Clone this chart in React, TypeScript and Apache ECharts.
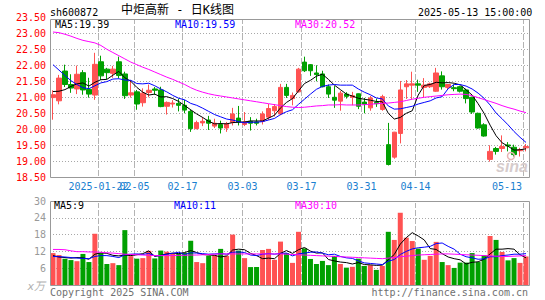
import React, { useEffect, useRef } from 'react';
import * as echarts from 'echarts';

const dates = [
  '2025-01-08','2025-01-09','2025-01-10','2025-01-13','2025-01-14','2025-01-15','2025-01-16','2025-01-17','2025-01-20','2025-01-21',
  '2025-01-22','2025-01-23','2025-01-24','2025-01-27','2025-02-05','2025-02-06','2025-02-07','2025-02-10','2025-02-11','2025-02-12',
  '2025-02-13','2025-02-14','2025-02-17','2025-02-18','2025-02-19','2025-02-20','2025-02-21','2025-02-24','2025-02-25','2025-02-26',
  '2025-02-27','2025-02-28','2025-03-03','2025-03-04','2025-03-05','2025-03-06','2025-03-07','2025-03-10','2025-03-11','2025-03-12',
  '2025-03-13','2025-03-14','2025-03-17','2025-03-18','2025-03-19','2025-03-20','2025-03-21','2025-03-24','2025-03-25','2025-03-26',
  '2025-03-27','2025-03-28','2025-03-31','2025-04-01','2025-04-02','2025-04-03','2025-04-07','2025-04-08','2025-04-09','2025-04-10',
  '2025-04-11','2025-04-14','2025-04-15','2025-04-16','2025-04-17','2025-04-18','2025-04-21','2025-04-22','2025-04-23','2025-04-24',
  '2025-04-25','2025-04-28','2025-04-29','2025-04-30','2025-05-06','2025-05-07','2025-05-08','2025-05-09','2025-05-12','2025-05-13'
];

const tickIndex = [8, 14, 22, 32, 42, 52, 61, 79];
const tickLabels = ['2025-01-22', '02-05', '02-17', '03-03', '03-17', '03-31', '04-14', '05-13'];

const opens = [
  20.99, 20.89, 21.82, 21.40, 21.26, 21.77, 21.25, 21.07, 22.11, 21.88,
  21.75, 22.11, 21.73, 21.07, 21.17, 20.83, 21.15, 21.26, 21.23, 20.72,
  20.79, 20.81, 20.75, 20.56, 20.02, 20.20, 20.29, 20.10, 20.15, 20.04,
  20.21, 20.35, 20.15, 20.25, 20.23, 20.25, 20.38, 20.58, 20.48, 21.31,
  20.96, 21.17, 22.10, 22.02, 21.76, 21.73, 21.33, 21.00, 20.88, 21.10,
  21.00, 21.11, 20.85, 20.67, 20.84, 20.62, 19.52, 19.13, 19.87, 21.33,
  21.38, 21.42, 21.31, 21.33, 21.19, 21.67, 21.31, 21.30, 21.33, 21.23,
  21.00, 20.50, 20.14, 19.06, 19.40, 19.40, 19.51, 19.44, 19.33, 19.42
];
const closes = [
  21.08, 21.60, 21.40, 21.29, 21.72, 21.23, 21.10, 22.03, 21.67, 21.77,
  21.88, 21.68, 21.05, 21.14, 20.79, 21.13, 21.22, 21.22, 20.71, 20.84,
  20.82, 20.75, 20.60, 20.02, 20.21, 20.25, 20.19, 20.19, 20.04, 20.17,
  20.48, 20.23, 20.23, 20.19, 20.19, 20.48, 20.65, 20.71, 21.31, 21.06,
  21.06, 21.88, 21.83, 21.83, 21.71, 21.33, 21.10, 20.91, 21.13, 21.03,
  21.05, 20.72, 20.79, 20.98, 20.80, 21.02, 18.90, 19.91, 21.23, 21.42,
  21.42, 21.38, 21.38, 21.42, 21.76, 21.33, 21.40, 21.27, 21.19, 20.96,
  20.54, 20.04, 19.79, 19.31, 19.31, 19.46, 19.48, 19.21, 19.36, 19.46
];
const lows = [
  20.30, 20.78, 21.32, 21.14, 21.10, 21.08, 20.99, 20.92, 21.54, 21.57,
  21.61, 21.59, 20.95, 20.99, 20.61, 20.71, 21.00, 21.08, 20.69, 20.46,
  20.68, 20.56, 20.50, 19.92, 20.00, 20.10, 19.98, 20.04, 19.87, 19.92,
  20.12, 20.12, 20.10, 19.96, 20.12, 20.15, 20.29, 20.40, 20.44, 20.98,
  20.75, 21.15, 21.79, 21.67, 21.50, 21.31, 20.98, 20.67, 20.58, 20.96,
  20.75, 20.63, 20.50, 20.58, 20.70, 20.58, 18.87, 19.08, 19.56, 20.95,
  20.94, 21.17, 21.00, 21.29, 21.17, 21.24, 21.23, 21.19, 21.15, 20.81,
  20.48, 20.02, 19.77, 18.99, 19.21, 19.29, 19.31, 19.15, 19.15, 19.31
];
const highs = [
  21.22, 21.70, 22.02, 21.72, 21.99, 21.85, 21.61, 22.39, 22.30, 21.92,
  21.98, 22.27, 21.80, 21.54, 21.23, 21.28, 21.40, 21.32, 21.33, 20.87,
  20.91, 20.96, 20.92, 20.62, 20.27, 20.38, 20.42, 20.33, 20.27, 20.23,
  20.67, 20.73, 20.54, 20.38, 20.33, 20.56, 20.79, 20.79, 21.42, 21.42,
  21.15, 21.92, 22.27, 22.04, 22.00, 21.83, 21.40, 21.35, 21.20, 21.16,
  21.17, 21.12, 20.98, 21.04, 20.96, 21.08, 20.20, 19.92, 21.51, 21.54,
  21.80, 21.55, 21.60, 21.46, 21.92, 21.81, 21.40, 21.40, 21.36, 21.27,
  21.02, 20.52, 20.19, 19.50, 19.45, 19.81, 19.60, 19.52, 19.42, 19.54
];

const ma5 = [
  21.18, 21.19, 21.24, 21.34, 21.42, 21.45, 21.35, 21.47, 21.55, 21.56,
  21.69, 21.81, 21.61, 21.50, 21.31, 21.16, 21.07, 21.10, 21.01, 21.02,
  20.96, 20.87, 20.74, 20.61, 20.48, 20.37, 20.25, 20.17, 20.18, 20.17,
  20.21, 20.22, 20.23, 20.26, 20.26, 20.26, 20.35, 20.44, 20.67, 20.84,
  20.96, 21.20, 21.43, 21.53, 21.66, 21.72, 21.56, 21.38, 21.24, 21.10,
  21.04, 20.97, 20.94, 20.91, 20.87, 20.86, 20.50, 20.32, 20.37, 20.50,
  20.58, 21.07, 21.37, 21.40, 21.47, 21.45, 21.46, 21.44, 21.39, 21.23,
  21.07, 20.80, 20.50, 20.13, 19.80, 19.58, 19.47, 19.35, 19.36, 19.39
];
const ma10 = [
  22.02, 21.85, 21.68, 21.52, 21.40, 21.30, 21.27, 21.36, 21.45, 21.49,
  21.57, 21.58, 21.54, 21.53, 21.43, 21.42, 21.44, 21.36, 21.26, 21.17,
  21.06, 20.97, 20.92, 20.81, 20.75, 20.66, 20.56, 20.46, 20.39, 20.32,
  20.29, 20.24, 20.20, 20.22, 20.22, 20.24, 20.29, 20.34, 20.46, 20.55,
  20.61, 20.78, 20.94, 21.10, 21.25, 21.34, 21.38, 21.40, 21.38, 21.38,
  21.38, 21.26, 21.16, 21.08, 20.98, 20.95, 20.73, 20.63, 20.64, 20.68,
  20.72, 20.79, 20.84, 20.89, 20.98, 21.02, 21.27, 21.40, 21.40, 21.35,
  21.26, 21.13, 20.97, 20.76, 20.51, 20.33, 20.14, 19.93, 19.75, 19.59
];
const ma30 = [
  23.04, 23.02, 22.97, 22.91, 22.84, 22.78, 22.74, 22.70, 22.62, 22.50,
  22.40, 22.30, 22.20, 22.10, 22.02, 21.94, 21.87, 21.79, 21.71, 21.63,
  21.56, 21.48, 21.40, 21.30, 21.22, 21.16, 21.11, 21.07, 21.04, 21.01,
  20.98, 20.95, 20.92, 20.89, 20.86, 20.83, 20.80, 20.77, 20.74, 20.71,
  20.69, 20.68, 20.69, 20.71, 20.73, 20.74, 20.76, 20.76, 20.77, 20.76,
  20.76, 20.76, 20.77, 20.78, 20.80, 20.81, 20.82, 20.84, 20.86, 20.90,
  20.94, 20.97, 21.00, 21.02, 21.04, 21.06, 21.08, 21.09, 21.10, 21.09,
  21.05, 20.99, 20.93, 20.87, 20.81, 20.74, 20.68, 20.63, 20.57, 20.52
];

const volumes = [
  11.4, 10.7, 9.4, 8.9, 8.5, 11.1, 8.2, 18.3, 11.4, 7.5,
  7.8, 7.1, 19.6, 10.3, 9.4, 9.6, 12.2, 9.5, 12.3, 11.9,
  11.3, 11.2, 11.5, 15.8, 8.2, 7.8, 10.4, 10.6, 12.9, 10.4,
  18.0, 12.3, 9.6, 6.4, 6.4, 12.5, 12.9, 9.0, 15.5, 11.4,
  7.9, 19.0, 13.1, 9.3, 7.5, 8.6, 7.1, 10.4, 7.5, 6.2,
  6.5, 9.4, 6.8, 7.1, 5.4, 6.8, 19.0, 16.1, 25.8, 16.9,
  15.7, 13.0, 9.0, 10.4, 15.4, 8.2, 7.1, 6.1, 8.0, 8.0,
  11.4, 8.2, 10.6, 17.5, 16.1, 11.8, 8.8, 9.6, 7.9, 10.2
];
const volMa5 = [
  10.5, 10.0, 9.8, 9.6, 9.8, 9.7, 9.2, 11.0, 11.5, 11.3,
  10.6, 10.4, 10.7, 10.5, 10.8, 11.2, 12.2, 10.2, 10.6, 11.1,
  11.4, 11.2, 11.6, 12.3, 11.6, 10.9, 10.7, 10.6, 10.0, 10.4,
  12.5, 12.8, 12.6, 11.3, 10.5, 9.4, 9.6, 9.4, 11.3, 12.3,
  11.3, 12.6, 13.4, 12.1, 11.4, 11.5, 9.1, 8.6, 8.2, 8.0,
  7.5, 8.0, 7.3, 7.2, 7.0, 7.1, 9.0, 10.9, 14.6, 16.9,
  18.7, 17.5, 16.1, 13.0, 12.7, 11.2, 10.0, 9.4, 9.0, 7.5,
  8.1, 8.3, 9.2, 11.1, 12.8, 12.8, 13.0, 12.8, 10.8, 9.7
];
const volMa10 = [
  10.2, 10.1, 10.0, 9.8, 9.6, 9.5, 9.4, 10.2, 10.5, 10.5,
  10.2, 9.8, 10.8, 11.0, 11.1, 10.9, 11.3, 10.4, 10.5, 11.0,
  11.3, 11.7, 10.9, 11.5, 11.4, 11.2, 11.0, 11.1, 11.2, 11.0,
  11.7, 11.8, 11.6, 10.7, 10.5, 11.0, 11.2, 11.0, 11.3, 11.4,
  10.4, 11.1, 11.4, 11.7, 11.8, 11.4, 10.8, 11.0, 10.2, 9.7,
  9.5, 8.6, 7.9, 7.7, 7.5, 7.3, 8.5, 9.1, 10.9, 12.0,
  12.9, 13.3, 13.5, 13.8, 14.8, 15.0, 13.8, 12.8, 11.0, 10.1,
  9.7, 9.2, 9.3, 10.1, 10.1, 10.5, 10.7, 11.0, 11.0, 11.2
];
const volMa30 = [
  12.7, 12.7, 12.6, 12.2, 11.9, 11.9, 11.8, 11.8, 11.7, 11.5,
  11.4, 11.2, 11.0, 10.9, 10.8, 10.7, 10.6, 10.5, 10.5, 10.5,
  10.5, 10.6, 10.6, 10.7, 10.7, 10.8, 10.9, 11.0, 11.1, 11.1,
  11.1, 11.1, 11.1, 11.1, 11.1, 11.1, 11.1, 11.1, 11.1, 11.0,
  10.9, 10.8, 10.7, 10.6, 10.5, 10.4, 10.3, 10.2, 10.1, 10.0,
  9.9, 9.8, 9.7, 9.6, 9.5, 9.4, 9.6, 9.8, 10.1, 10.3,
  10.5, 10.7, 10.8, 10.9, 11.0, 11.1, 11.1, 11.0, 10.9, 10.8,
  10.7, 10.6, 10.5, 10.4, 10.3, 10.2, 10.2, 10.3, 10.4, 10.5
];

const priceLegend = ['MA5:19.39', 'MA10:19.59', 'MA30:20.52'];
const volLegend = ['MA5:9', 'MA10:11', 'MA30:10'];
const legendColors = ['#000000', '#0000ff', '#ff00ff'];

const MONO = "'DejaVu Sans Mono', monospace";
const UP = '#ff5252';
const DOWN = '#00a000';
const GRID = '#a8a8a8';
const VGRID = '#b4b4b4';
const DATE_COLOR = '#1a80d0';

const PRICE_GRID = { left: 50, width: 479, top: 17.3, height: 160 };
const VOL_GRID = { left: 50, width: 479, top: 201, height: 84 };

function txt(text: string, x: number, y: number, fill: string, extra: any = {}) {
  const align = extra.align || 'left';
  const size = extra.size || 10;
  const family = extra.family || MONO;
  const styleStr = (extra.italic ? 'italic ' : '') + (extra.bold ? 'bold ' : '') + size + 'px ' + family;
  return {
    type: 'text',
    silent: true,
    z: 100,
    style: {
      text, x, y, fill,
      font: styleStr,
      textAlign: align, align,
      textVerticalAlign: 'middle', verticalAlign: 'middle'
    }
  };
}

export default function App() {
  const ref = useRef<HTMLDivElement>(null);
  useEffect(() => {
    if (!ref.current) return;
    const chart = echarts.init(ref.current, undefined, { renderer: 'svg' });
    const candleData = dates.map((_, i) => [opens[i], closes[i], lows[i], highs[i]]);
    const volData = volumes.map((v, i) => ({
      value: v,
      itemStyle: { color: closes[i] >= opens[i] ? UP : DOWN }
    }));
    const lineS = (data: number[], color: string, xi: number) => ({
      type: 'line', data, xAxisIndex: xi, yAxisIndex: xi, symbol: 'none', showSymbol: false,
      silent: true, lineStyle: { color, width: 1 }, itemStyle: { color }, z: 5
    });
    const priceSplitColors = Array.from({ length: 11 }, (_, i) => (i === 0 || i === 10 ? 'rgba(0,0,0,0)' : GRID));
    const volSplitColors = Array.from({ length: 6 }, (_, i) => (i === 0 || i === 5 ? 'rgba(0,0,0,0)' : GRID));

    const staticGraphics: any[] = [
      { type: 'rect', silent: true, z: 90, shape: { x: 50.5, y: 19.5, width: 479, height: 158 }, style: { fill: 'none', stroke: '#999999', lineWidth: 1 } },
      { type: 'rect', silent: true, z: 90, shape: { x: 50.5, y: 201.5, width: 479, height: 84 }, style: { fill: 'none', stroke: '#999999', lineWidth: 1 } },
      txt('sh600872', 50, 12, '#000000'),
      txt('中炬高新 - 日K线图', 121, 10, '#000000', { size: 12, family: "'DejaVu Sans Mono', 'Noto Sans CJK SC'" }),
      txt('2025-05-13 15:00:00', 418, 12.5, '#000000'),
      txt(priceLegend[0], 55, 24.5, legendColors[0]),
      txt(priceLegend[1], 175, 24.5, legendColors[1]),
      txt(priceLegend[2], 295, 24.5, legendColors[2]),
      txt(volLegend[0], 54, 205.5, legendColors[0]),
      txt(volLegend[1], 174, 205.5, legendColors[1]),
      txt(volLegend[2], 295, 205.5, legendColors[2]),
      txt('x万', 45, 286, '#b0b0b0', { align: 'right', italic: true, size: 11, family: "'DejaVu Sans', 'Noto Sans CJK SC'" }),
      txt('Copyright 2025 SINA.COM', 50, 292.5, '#707070'),
      txt('http://finance.sina.com.cn', 528, 292.5, '#707070', { align: 'right' }),
      { type: 'circle', silent: true, z: 95, shape: { cx: 511, cy: 156, r: 3.5 }, style: { fill: 'none', stroke: '#e8b4b4', lineWidth: 1.5 } },
      txt('sina', 496, 166, '#d6cccc', { italic: true, bold: true, size: 16, family: "'Liberation Sans', Arial" })
    ];

    const option: any = {
      animation: false,
      backgroundColor: '#ffffff',
      grid: [PRICE_GRID, VOL_GRID],
      xAxis: [
        {
          type: 'category', gridIndex: 0, data: dates, boundaryGap: true,
          axisLine: { show: false }, axisTick: { show: false }, axisLabel: { show: false }, splitLine: { show: false }
        },
        {
          type: 'category', gridIndex: 1, data: dates, boundaryGap: true,
          axisLine: { show: false }, axisTick: { show: false }, axisLabel: { show: false }, splitLine: { show: false }
        }
      ],
      yAxis: [
        {
          type: 'value', gridIndex: 0, min: 18.5, max: 23.5, interval: 0.5,
          axisLine: { show: false }, axisTick: { show: false },
          axisLabel: { color: '#ff0000', fontFamily: MONO, fontSize: 10, margin: 4, formatter: (v: number) => v.toFixed(2) },
          splitLine: { show: true, lineStyle: { color: priceSplitColors, type: [1, 2], width: 1 } }
        },
        {
          type: 'value', gridIndex: 1, min: 0, max: 30, interval: 6,
          axisLine: { show: false }, axisTick: { show: false },
          axisLabel: { color: '#999999', fontFamily: MONO, fontSize: 10, margin: 4, showMinLabel: false },
          splitLine: { show: true, lineStyle: { color: volSplitColors, type: [1, 2], width: 1 } }
        }
      ],
      series: [
        {
          type: 'candlestick', xAxisIndex: 0, yAxisIndex: 0, data: candleData, barWidth: 5, silent: true,
          itemStyle: { color: UP, color0: DOWN, borderColor: UP, borderColor0: DOWN, borderWidth: 1 }, z: 3
        },
        lineS(ma5, '#000000', 0),
        lineS(ma10, '#0000ff', 0),
        lineS(ma30, '#ff00ff', 0),
        { type: 'bar', xAxisIndex: 1, yAxisIndex: 1, data: volData, barWidth: 5, silent: true, z: 3 },
        lineS(volMa5, '#000000', 1),
        lineS(volMa10, '#0000ff', 1),
        lineS(volMa30, '#ff00ff', 1)
      ],
      graphic: staticGraphics
    };
    chart.setOption(option);

    // date gridlines and date labels, placed through the category axis scale
    const dyn: any[] = [];
    const grids = [PRICE_GRID, VOL_GRID];
    [0, 1].forEach((ax) => {
      const g = grids[ax];
      const top = Math.round(g.top) + 2;
      const bottom = Math.round(g.top + g.height);
      tickIndex.forEach((t, k) => {
        const c0 = chart.convertToPixel({ xAxisIndex: ax }, t) as number;
        const c1 = chart.convertToPixel({ xAxisIndex: ax }, t + 1) as number;
        const band = c1 - c0;
        const x = Math.round(c0 - band / 2) + 0.5;
        dyn.push({
          type: 'rect', silent: true, z: 1,
          shape: { x, y: top, width: 0, height: bottom - top },
          style: { fill: 'none', stroke: VGRID, lineWidth: 1, lineDash: [5, 3] }
        });
        if (ax === 0) {
          const last = k === tickIndex.length - 1;
          dyn.push({
            type: 'text', silent: true, z: 100,
            style: {
              text: tickLabels[k],
              x: last ? x - 1.5 : x,
              y: g.top + g.height + 9,
              fill: DATE_COLOR,
              font: '10px ' + MONO,
              textAlign: last ? 'right' : 'center', align: last ? 'right' : 'center',
              textVerticalAlign: 'middle', verticalAlign: 'middle'
            }
          });
        }
      });
    });
    chart.setOption({ graphic: staticGraphics.concat(dyn) });
    return () => { chart.dispose(); };
  }, []);
  return (
    <div
      ref={ref}
      style={{ position: 'fixed', left: 0, top: 0, width: 545, height: 300, background: '#ffffff' }}
    />
  );
}
